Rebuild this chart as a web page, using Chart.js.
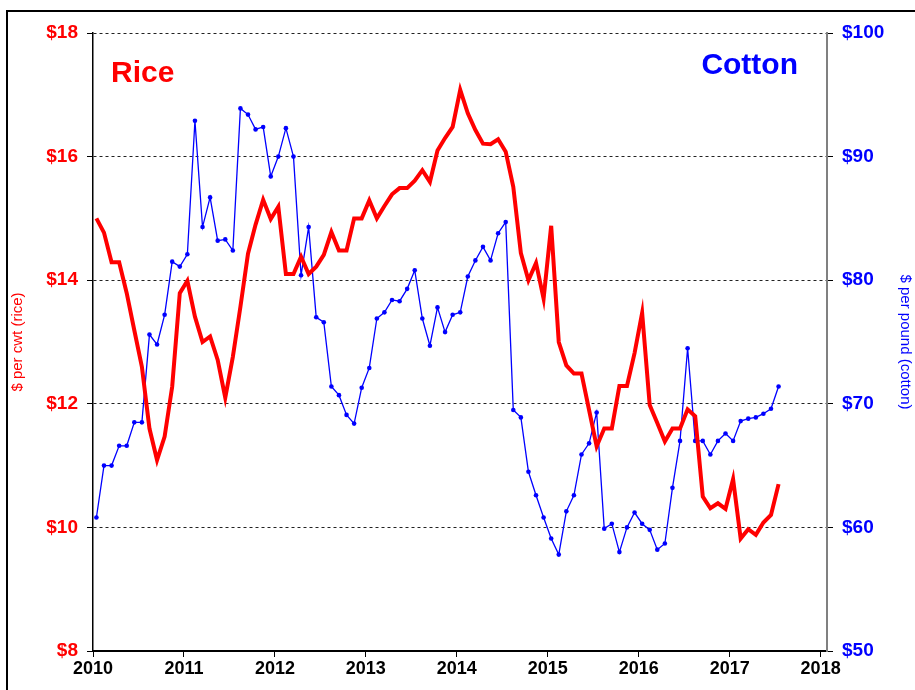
<!DOCTYPE html>
<html>
<head>
<meta charset="utf-8">
<script src="https://cdn.jsdelivr.net/npm/chart.js@4.4.0/dist/chart.umd.min.js"></script>
<style>
  html, body { margin: 0; padding: 0; background: #fff; }
  #caixa { position: relative; width: 915px; height: 690px; overflow: hidden; }
  #moldura { position: absolute; left: 6px; top: 10px; width: 1000px; height: 1000px; border: 2px solid #000; pointer-events: none; }
  canvas { position: absolute; left: 0; top: 0; }
</style>
</head>
<body>
<div id="caixa">
  <canvas id="grafico" width="915" height="690"></canvas>
  <div id="moldura"></div>
</div>
<script>
// dados mensais, jan/2010 a jul/2017
const anoInicial = 2010;
const anos = [2010, 2011, 2012, 2013, 2014, 2015, 2016, 2017, 2018];

// arroz, $ por cwt
const precoArroz = [
  15.0, 14.77, 14.29, 14.29, 13.79, 13.19, 12.6, 11.6, 11.09, 11.47, 12.28, 13.79,
  13.99, 13.41, 13.0, 13.09, 12.71, 12.1, 12.76, 13.57, 14.43, 14.9, 15.3, 14.99,
  15.19, 14.1, 14.1, 14.38, 14.1, 14.22, 14.41, 14.78, 14.48, 14.48, 15.0, 15.0,
  15.29, 15.0, 15.2, 15.39, 15.49, 15.49, 15.61, 15.78, 15.59, 16.1, 16.3, 16.48,
  17.08, 16.7, 16.43, 16.21, 16.2, 16.28, 16.08, 15.51, 14.44, 14.0, 14.28, 13.7,
  14.88, 13.0, 12.62, 12.49, 12.49, 11.9, 11.31, 11.6, 11.6, 12.29, 12.29, 12.82,
  13.47, 11.98, 11.69, 11.39, 11.6, 11.6, 11.91, 11.8, 10.5, 10.31, 10.39, 10.3,
  10.78, 9.82, 9.97, 9.88, 10.08, 10.2, 10.7
];

// algodao, cents por libra
const precoAlgodao = [
  60.8, 65.0, 65.0, 66.6, 66.6, 68.5, 68.5, 75.6, 74.8, 77.2, 81.5, 81.1,
  82.1, 92.9, 84.3, 86.7, 83.2, 83.3, 82.4, 93.9, 93.4, 92.2, 92.4, 88.4,
  90.0, 92.3, 90.0, 80.4, 84.3, 77.0, 76.6, 71.4, 70.7, 69.1, 68.4, 71.3,
  72.9, 76.9, 77.4, 78.4, 78.3, 79.3, 80.8, 76.9, 74.7, 77.8, 75.8, 77.2,
  77.4, 80.3, 81.6, 82.7, 81.6, 83.8, 84.7, 69.5, 68.9, 64.5, 62.6, 60.8,
  59.1, 57.8, 61.3, 62.6, 65.9, 66.8, 69.3, 59.9, 60.3, 58.0, 60.0, 61.2,
  60.3, 59.8, 58.2, 58.7, 63.2, 67.0, 74.5, 67.0, 67.0, 65.9, 67.0, 67.6,
  67.0, 68.6, 68.8, 68.9, 69.2, 69.6, 71.4
];

// meses como ano decimal (meio do mes)
const meses = precoArroz.map((_, i) => anoInicial + (i + 0.45) / 12);

const fonte = '"Liberation Sans", Arial, sans-serif';

const rotulos = {
  id: 'rotulos',
  afterDraw(chart) {
    const ctx = chart.ctx;
    ctx.save();
    ctx.font = `bold 30px ${fonte}`;
    ctx.textBaseline = 'alphabetic';
    ctx.fillStyle = '#ff0000';
    ctx.textAlign = 'left';
    ctx.fillText('Rice', 111, 82);
    ctx.fillStyle = '#0000ff';
    ctx.textAlign = 'right';
    ctx.fillText('Cotton', 798, 74);
    ctx.restore();
  }
};

const ctx = document.getElementById('grafico').getContext('2d');

new Chart(ctx, {
  type: 'line',
  data: {
    datasets: [{
      label: 'Rice',
      data: meses.map((x, i) => ({ x: x, y: precoArroz[i] })),
      yAxisID: 'yArroz',
      borderColor: '#ff0000',
      borderWidth: 4,
      pointRadius: 0,
      tension: 0
    }, {
      label: 'Cotton',
      data: meses.map((x, i) => ({ x: x, y: precoAlgodao[i] })),
      yAxisID: 'yAlgodao',
      borderColor: '#0000ff',
      borderWidth: 1.3,
      pointRadius: 2.3,
      pointBackgroundColor: '#0000ff',
      pointBorderWidth: 0,
      tension: 0
    }]
  },
  options: {
    responsive: false,
    devicePixelRatio: 1,
    animation: false,
    layout: { padding: { top: 33, left: 0, right: 0, bottom: 0 } },
    plugins: { legend: { display: false }, tooltip: { enabled: false } },
    scales: {
      x: {
        type: 'linear',
        min: 2010,
        max: 2018.07,
        afterBuildTicks: s => { s.ticks = anos.map(v => ({ value: v })); },
        afterFit: s => { s.height = 39; },
        ticks: {
          callback: v => String(v),
          color: '#000',
          font: { family: fonte, size: 18, weight: 'bold' },
          padding: 1,
          maxRotation: 0,
          autoSkip: false
        },
        grid: { drawOnChartArea: false, drawTicks: true, tickLength: 6, color: '#000' },
        border: { color: '#000', width: 2 }
      },
      yArroz: {
        position: 'left',
        min: 8,
        max: 18,
        afterFit: s => { s.width = 93; },
        ticks: {
          stepSize: 2,
          callback: v => '$' + v,
          color: '#ff0000',
          font: { family: fonte, size: 19, weight: 'bold' },
          padding: 9
        },
        grid: { color: '#222', lineWidth: 1, tickLength: 6, tickColor: '#000' },
        border: { color: '#000', width: 1.5, dash: [3, 3] },
        title: {
          display: true,
          text: '$ per cwt (rice)',
          color: '#ff0000',
          font: { family: fonte, size: 15 },
          padding: { top: 9, bottom: 0 }
        }
      },
      yAlgodao: {
        position: 'right',
        min: 50,
        max: 100,
        afterFit: s => { s.width = 88; },
        ticks: {
          stepSize: 10,
          callback: v => '$' + v,
          color: '#0000ff',
          font: { family: fonte, size: 19, weight: 'bold' },
          padding: 9
        },
        grid: { drawOnChartArea: false, tickLength: 6, color: '#000' },
        border: { color: '#808080', width: 2 },
        title: {
          display: true,
          text: '$ per pound (cotton)',
          color: '#0000ff',
          font: { family: fonte, size: 15 },
          padding: { top: 1, bottom: 0 }
        }
      }
    }
  },
  plugins: [rotulos]
});
</script>
</body>
</html>
